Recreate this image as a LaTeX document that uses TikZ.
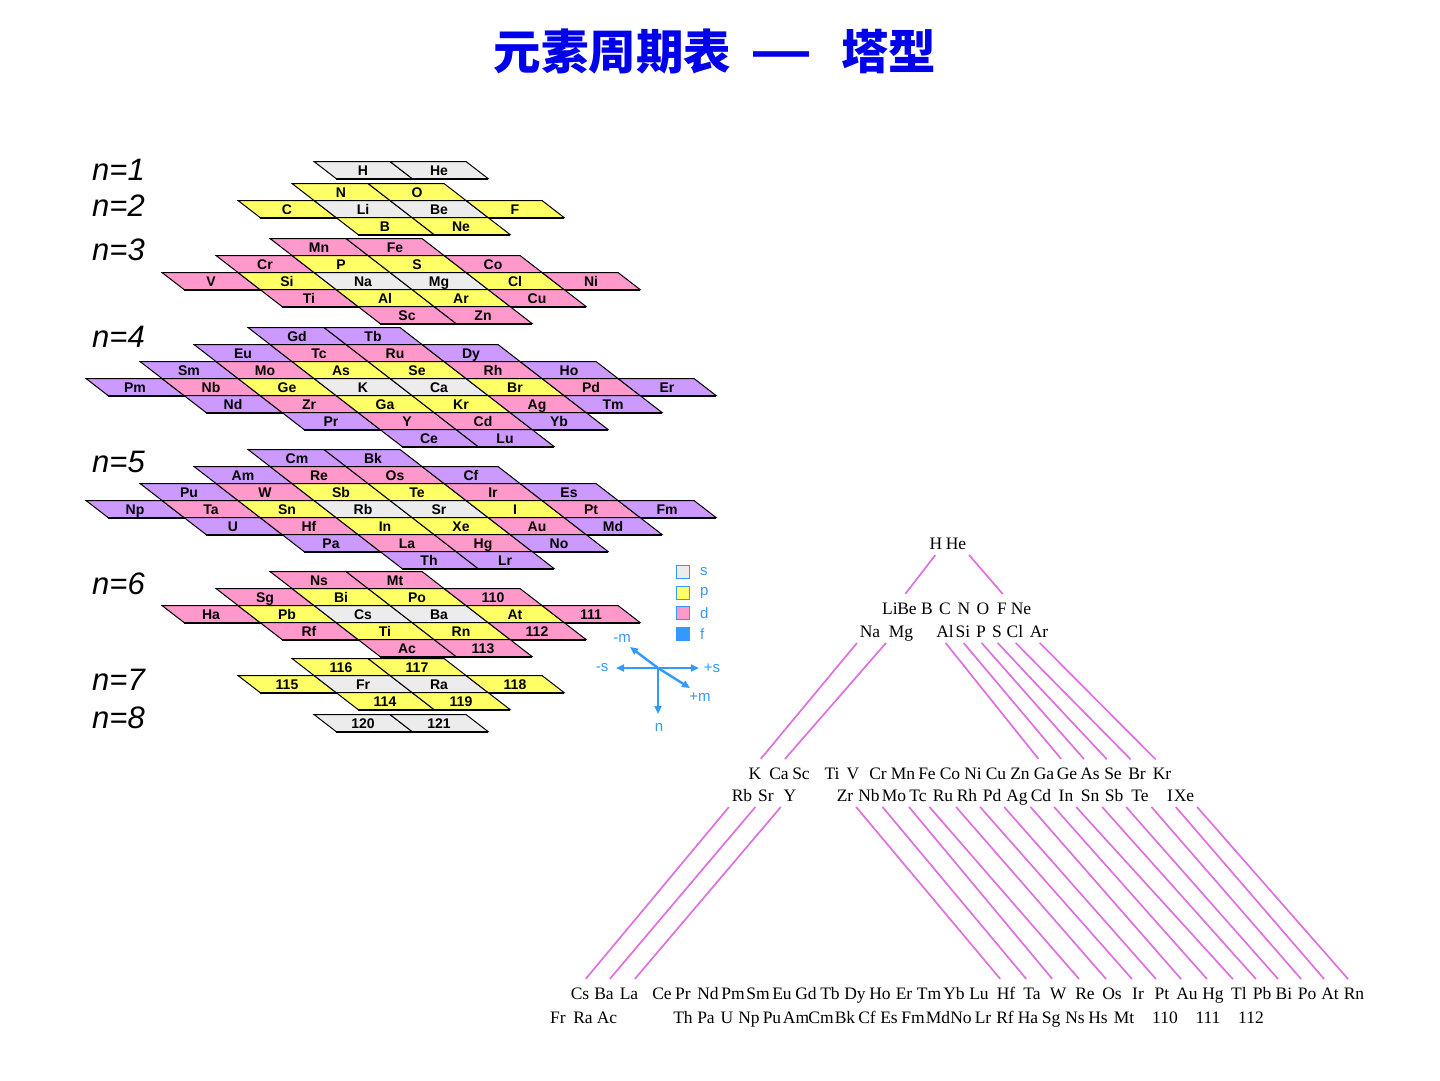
\documentclass[tikz,border=0pt]{standalone}
\usepackage{fontspec}
\setmainfont{Liberation Serif}
\setsansfont{Liberation Sans}
\newfontfamily\cjkfont{Noto Sans CJK SC}
\usetikzlibrary{arrows.meta, positioning, calc}

\definecolor{titleblue}{RGB}{0,0,235}
\definecolor{legblue}{RGB}{51,153,255}
\definecolor{linkpink}{RGB}{224,112,224}
\definecolor{blks}{RGB}{236,236,236}
\definecolor{blkp}{RGB}{255,255,102}
\definecolor{blkd}{RGB}{255,153,204}
\definecolor{blkf}{RGB}{204,153,255}

\tikzset{
  cellline/.style={draw=black, line width=1pt},
  celltext/.style={font=\sffamily\bfseries\fontsize{14}{14}\selectfont, inner sep=0pt, text height=10pt, text depth=0pt},
  shelllabel/.style={font=\sffamily\itshape\fontsize{31}{31}\selectfont, anchor=west, inner sep=0pt},
  elem/.style={font=\fontsize{17.5}{17.5}\selectfont, anchor=base, inner sep=2pt, text height=11pt, text depth=3pt},
  pinkline/.style={draw=linkpink, line width=1.7pt, shorten >=9pt, shorten <=1pt},
  legbox/.style={draw=legblue, line width=1.5pt, minimum size=13pt, inner sep=0pt},
  legtext/.style={font=\sffamily\fontsize{15}{15}\selectfont, text=legblue, anchor=west, inner sep=0pt},
  axisarrow/.style={draw=legblue, line width=2.4pt, -{Triangle[length=8pt,width=7pt]}},
  axislabel/.style={font=\sffamily\fontsize{15}{15}\selectfont, text=legblue, inner sep=0pt},
}

% one row of the tower: y of the row, x of the first cell, list of symbol/block
\newcommand{\cellrow}[3]{%
  \foreach \sym/\blk [count=\j from 0] in {#3} {
    \pgfmathsetmacro{\cx}{#2+76*\j}
    \filldraw[cellline, fill=blk\blk] (\cx-49,#1-8.5) -- ++(76,0) -- ++(22,17) -- ++(-76,0) -- cycle;
    \draw[line width=2pt] (\cx-27,#1+8.5) -- ++(76,0);
    \node[celltext] (c-\sym-#1) at (\cx,#1) {\sym};
  }
}

\begin{document}
\begin{tikzpicture}[x=1pt, y=-1pt]
\fill[white] (0,0) rectangle (1440,1080);
\useasboundingbox (0,0) rectangle (1440,1080);

% title
\node[font=\cjkfont\bfseries\fontsize{47.5}{47.5}\selectfont, text=titleblue] (title) at (715,52)
  {元素周期表\hspace{22pt}{\sffamily\bfseries\fontsize{56}{56}\selectfont —}\hspace{32pt}塔型};

% shell labels
\foreach \n/\y in {1/170, 2/206, 3/250, 4/337, 5/462, 6/584, 7/680, 8/718}
  \node[shelllabel] (n\n) at (92,\y) {n=\n};

% n=1
\cellrow{170}{363}{H/s, He/s}
% n=2
\cellrow{192}{341}{N/p, O/p}
\cellrow{209}{287}{C/p, Li/s, Be/s, F/p}
\cellrow{226}{385}{B/p, Ne/p}
% n=3
\cellrow{247}{319}{Mn/d, Fe/d}
\cellrow{264}{265}{Cr/d, P/p, S/p, Co/d}
\cellrow{281}{211}{V/d, Si/p, Na/s, Mg/s, Cl/p, Ni/d}
\cellrow{298}{309}{Ti/d, Al/p, Ar/p, Cu/d}
\cellrow{315}{407}{Sc/d, Zn/d}
% n=4
\cellrow{336}{297}{Gd/f, Tb/f}
\cellrow{353}{243}{Eu/f, Tc/d, Ru/d, Dy/f}
\cellrow{370}{189}{Sm/f, Mo/d, As/p, Se/p, Rh/d, Ho/f}
\cellrow{387}{135}{Pm/f, Nb/d, Ge/p, K/s, Ca/s, Br/p, Pd/d, Er/f}
\cellrow{404}{233}{Nd/f, Zr/d, Ga/p, Kr/p, Ag/d, Tm/f}
\cellrow{421}{331}{Pr/f, Y/d, Cd/d, Yb/f}
\cellrow{438}{429}{Ce/f, Lu/f}
% n=5
\cellrow{458}{297}{Cm/f, Bk/f}
\cellrow{475}{243}{Am/f, Re/d, Os/d, Cf/f}
\cellrow{492}{189}{Pu/f, W/d, Sb/p, Te/p, Ir/d, Es/f}
\cellrow{509}{135}{Np/f, Ta/d, Sn/p, Rb/s, Sr/s, I/p, Pt/d, Fm/f}
\cellrow{526}{233}{U/f, Hf/d, In/p, Xe/p, Au/d, Md/f}
\cellrow{543}{331}{Pa/f, La/d, Hg/d, No/f}
\cellrow{560}{429}{Th/f, Lr/f}
% n=6
\cellrow{580}{319}{Ns/d, Mt/d}
\cellrow{597}{265}{Sg/d, Bi/p, Po/p, 110/d}
\cellrow{614}{211}{Ha/d, Pb/p, Cs/s, Ba/s, At/p, 111/d}
\cellrow{631}{309}{Rf/d, Ti/p, Rn/p, 112/d}
\cellrow{648}{407}{Ac/d, 113/d}
% n=7
\cellrow{667}{341}{116/p, 117/p}
\cellrow{684}{287}{115/p, Fr/s, Ra/s, 118/p}
\cellrow{701}{385}{114/p, 119/p}
% n=8
\cellrow{723}{363}{120/s, 121/s}

% legend
\foreach \b/\y in {s/572, p/593, d/613} {
  \node[legbox, fill=blk\b] (leg-\b) at (683,\y) {};
  \node[legtext] (leg-\b-t) at (700,\y) {\b};
}
\node[legbox, fill=legblue] (leg-f) at (683,634) {};
\node[legtext] (leg-f-t) at (700,634) {f};

% quantum number axes
\coordinate (ax-o) at (658,668);
\coordinate (ax-ms) at (616,668);
\coordinate (ax-ps) at (699,668);
\coordinate (ax-mm) at (630,647);
\coordinate (ax-pm) at (690,688);
\coordinate (ax-n) at (658,714);
\foreach \e in {ax-ms, ax-ps, ax-mm, ax-pm, ax-n}
  \draw[axisarrow] (ax-o) -- (\e);
\node[axislabel] (lab-ms) at (602,668) {-s};
\node[axislabel] (lab-ps) at (712,668) {+s};
\node[axislabel] (lab-mm) at (622,638) {-m};
\node[axislabel] (lab-pm) at (700,697) {+m};
\node[axislabel] (lab-n) at (659,727) {n};

% tower of element symbols
\foreach \sym/\x in {H/936, He/956}
  \node[elem] (t-\sym) at (\x,549) {\sym};
\foreach \sym/\x in {Li/890, Be/907, B/927, C/945, N/964, O/983, F/1002, Ne/1021}
  \node[elem] (t-\sym) at (\x,614) {\sym};
\foreach \sym/\x in {Na/870, Mg/901, Al/945, Si/963, P/981, S/997, Cl/1015, Ar/1039}
  \node[elem] (t-\sym) at (\x,637) {\sym};
\foreach \sym/\x in {K/755, Ca/779, Sc/801, Ti/832, V/853, Cr/878, Mn/903, Fe/927, Co/950,
    Ni/973, Cu/996, Zn/1020, Ga/1044, Ge/1067, As/1090, Se/1113, Br/1137, Kr/1162}
  \node[elem] (t-\sym) at (\x,779) {\sym};
\foreach \sym/\x in {Rb/742, Sr/766, Y/790, Zr/845, Nb/869, Mo/894, Tc/918, Ru/943, Rh/967,
    Pd/992, Ag/1017, Cd/1041, In/1066, Sn/1090, Sb/1114, Te/1140, I/1170, Xe/1184}
  \node[elem] (t-\sym) at (\x,801) {\sym};
\foreach \sym/\x in {Cs/580, Ba/604, La/629, Ce/662, Pr/683, Nd/708, Pm/733, Sm/758, Eu/782,
    Gd/806, Tb/830, Dy/855, Ho/880, Er/904, Tm/929, Yb/954, Lu/979, Hf/1006, Ta/1032,
    W/1058, Re/1085, Os/1112, Ir/1138, Pt/1162, Au/1187, Hg/1213, Tl/1239, Pb/1262,
    Bi/1284, Po/1307, At/1330, Rn/1354}
  \node[elem] (t-\sym) at (\x,999) {\sym};
\foreach \sym/\x in {Fr/558, Ra/583, Ac/607, Th/683, Pa/706, U/727, Np/749, Pu/772, Am/796,
    Cm/821, Bk/845, Cf/867, Es/889, Fm/913, Md/938, No/961, Lr/983, Rf/1005, Ha/1028,
    Sg/1051, Ns/1075, Hs/1098, Mt/1124, 110/1165, 111/1208, 112/1251}
  \node[elem] (t-\sym) at (\x,1023) {\sym};

% links between the levels
\draw[pinkline] (t-H.south) -- (t-Li.north east);
\draw[pinkline] (t-He.south east) -- (t-Ne.north west);
\foreach \a/\b in {Na/K, Mg/Ca, Rb/Cs, Sr/Ba, Y/La}
  \draw[pinkline] (t-\a.south west) -- (t-\b.north);
\foreach \a/\b in {Al/Ga, Si/Ge, P/As, S/Se, Cl/Br, Ar/Kr}
  \draw[pinkline] (t-\a.south) -- (t-\b.north);
\foreach \a/\b in {Zr/Hf, Nb/Ta, Mo/W, Tc/Re, Ru/Os, Rh/Ir, Pd/Pt, Ag/Au, Cd/Hg, In/Tl,
    Sn/Pb, Sb/Bi, Te/Po, I/At, Xe/Rn}
  \draw[pinkline] (t-\a.south east) -- (t-\b.north);
\end{tikzpicture}
\end{document}
